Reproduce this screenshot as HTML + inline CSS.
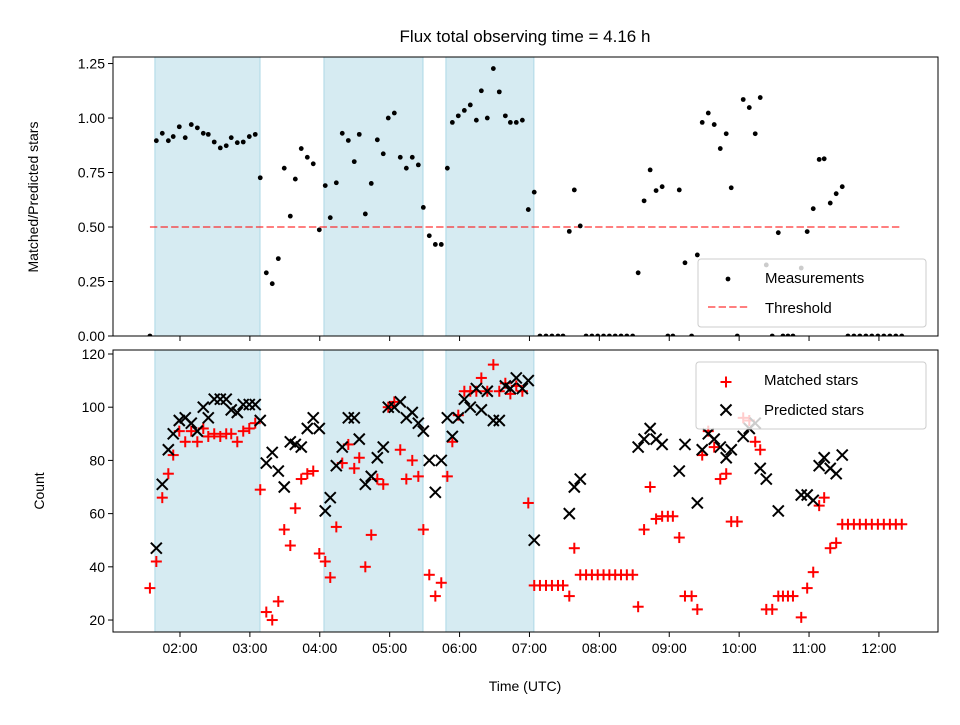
<!DOCTYPE html>
<html><head><meta charset="utf-8"><style>
body{margin:0;background:#fff}
svg text{font-family:"Liberation Sans","DejaVu Sans",sans-serif;fill:#000}
</style></head><body>
<svg id="chart" width="960" height="720" xmlns="http://www.w3.org/2000/svg"></svg>
<script>
const times=[94.2,99.7,104.8,110.0,114.2,119.4,124.5,129.7,134.9,140.0,144.3,149.4,154.6,159.7,164.0,169.2,174.3,179.5,184.6,188.9,194.1,199.2,204.4,209.5,214.7,219.0,224.1,229.3,234.4,239.6,244.7,249.0,254.2,259.3,264.5,269.6,273.9,279.1,284.2,289.4,294.5,298.8,304.0,309.1,314.3,319.4,324.6,328.9,334.0,339.2,344.3,349.5,353.8,358.9,364.1,369.2,374.4,378.7,383.8,389.0,394.1,399.3,403.6,408.7,413.9,419.0,424.1,429.0,434.2,439.3,444.5,448.8,454.2,458.5,463.6,468.6,473.6,478.6,483.6,488.6,493.6,498.6,503.6,508.6,513.3,518.4,523.6,528.7,533.9,538.8,543.1,548.6,553.5,559.2,564.1,568.3,573.5,578.6,583.8,588.9,593.2,598.4,603.5,608.7,613.8,618.1,623.3,628.4,633.6,637.6,641.9,646.2,653.3,658.4,663.6,668.7,673.0,678.2,683.3,688.5,693.4,698.5,703.6,708.8,713.9,719.1,724.2,729.4,734.5,739.6];
const ratio=[0,.896,.93,.896,.915,.96,.91,.97,.955,.93,.925,.89,.863,.873,.91,.887,.89,.915,.925,.726,.29,.24,.355,.77,.55,.72,.86,.82,.79,.487,.69,.543,.703,.93,.897,.80,.925,.56,.70,.90,.836,1.0,1.023,.82,.77,.82,.785,.59,.46,.42,.42,.77,.98,1.01,1.035,1.06,.99,1.125,1.0,1.227,1.12,1.01,.98,.98,.99,.58,.66,0,0,0,0,0,.48,.67,.505,0,0,0,0,0,0,0,0,0,.29,.62,.762,.667,.685,0,0,.67,.336,0,.372,.98,1.023,.97,.86,.928,.68,0,1.085,1.048,.928,1.094,.326,0,.474,0,0,0,.312,.479,.584,.81,.813,.61,.653,.685,0,0,0,0,0,0,0,0,0,0];
const matched=[32,42,66,75,82,91,87,91,87,92,89,90,89,90,90,87,91,92,94,69,23,20,27,54,48,62,73,75,76,45,42,36,55,79,86,77,81,40,52,73,71,100,102,84,73,80,74,54,37,29,34,74,87,97,106,106,106,111,106,116,106,109,105,108,106,64,33,33,33,33,33,33,29,47,37,37,37,37,37,37,37,37,37,37,25,54,70,58,59,59,59,51,29,29,24,82,91,85,73,75,57,57,96,95,87,84,24,24,29,29,29,29,21,32,38,63,66,47,49,56,56,56,56,56,56,56,56,56,56,56];
const predicted=[null,47,71,84,90,95,96,94,91,100,96,103,103,103,99,98,101,101,101,95,79,83,76,70,87,86,85,92,96,92,61,66,78,85,96,96,88,71,74,81,85,100,100,102,96,98,94,91,80,68,80,96,89,96,103,100,107,99,106,95,95,108,107,111,107,110,50,null,null,null,null,null,60,70,73,null,null,null,null,null,null,null,null,null,85,88,92,88,86,null,null,76,86,null,64,84,90,88,85,81,84,null,89,92,94,77,73,null,61,null,null,null,67,67,65,78,81,77,75,82,null,null,null,null,null,null,null,null,null,null];
const spans=[[98.5,188.7],[243.6,328.6],[348.3,423.8]];
const xTicks=[120,180,240,300,360,420,480,540,600,660,720];
const xTickLabels=["02:00","03:00","04:00","05:00","06:00","07:00","08:00","09:00","10:00","11:00","12:00"];
const topTicks=[0,0.25,0.5,0.75,1.0,1.25];
const topTickLabels=["0.00","0.25","0.50","0.75","1.00","1.25"];
const botTicks=[20,40,60,80,100,120];
const threshold=0.5;
const thrRange=[94.2,739.6];

const NS="http://www.w3.org/2000/svg";
const svg=document.getElementById('chart');
const L=113,R=938,T1=57,B1=336,T2=350,B2=632;
const X=m=>L+(m-62.5)/(770.7-62.5)*(R-L);
const Y1=v=>B1-(v/1.28)*(B1-T1);
const Y2=v=>B2-(v-15.5)/(121.5-15.5)*(B2-T2);
function el(tag,attrs,parent){const e=document.createElementNS(NS,tag);for(const k in attrs)e.setAttribute(k,attrs[k]);(parent||svg).appendChild(e);return e;}
function txt(s,attrs,parent){const e=el('text',attrs,parent);e.textContent=s;return e;}

// clip paths
const defs=el('defs',{});
const c1=el('clipPath',{id:'c1'},defs);el('rect',{x:L,y:T1,width:R-L,height:B1-T1},c1);
const c2=el('clipPath',{id:'c2'},defs);el('rect',{x:L,y:T2,width:R-L,height:B2-T2},c2);

function panel(T,B,clip,name){
  const g=el('g',{'clip-path':'url(#'+clip+')'});
  
  
  spans.forEach(s=>{
    const r=el('rect',{x:X(s[0]),y:T,width:X(s[1])-X(s[0]),height:B-T,fill:'#add8e6','fill-opacity':0.5,stroke:'#add8e6','stroke-width':1},g);
    
    
  });
  return g;
}
const g1=panel(T1,B1,'c1','top-plot');
const g2=panel(T2,B2,'c2','bottom-plot');

// threshold
const th=el('line',{x1:X(thrRange[0]),x2:X(thrRange[1]),y1:Y1(threshold),y2:Y1(threshold),stroke:'#ff0000','stroke-opacity':0.5,'stroke-width':2,'stroke-dasharray':'7.4,3.2'},g1);



// ratio dots
times.forEach((t,i)=>{
  const c=el('circle',{cx:X(t),cy:Y1(ratio[i]),r:2.4,fill:'#000'},g1);
  
  
});

// matched +
function plus(x,y,col,parent){const g=el('g',{stroke:col,'stroke-width':2},parent);el('line',{x1:x-5.5,x2:x+5.5,y1:y,y2:y},g);el('line',{x1:x,x2:x,y1:y-5.5,y2:y+5.5},g);return g;}
function cross(x,y,col,parent){const g=el('g',{stroke:col,'stroke-width':2},parent);el('line',{x1:x-5.5,x2:x+5.5,y1:y-5.5,y2:y+5.5},g);el('line',{x1:x-5.5,x2:x+5.5,y1:y+5.5,y2:y-5.5},g);return g;}
times.forEach((t,i)=>{
  const p=plus(X(t),Y2(matched[i]),'#ff0000',g2);
  
  
});
times.forEach((t,i)=>{
  if(predicted[i]==null)return;
  const p=cross(X(t),Y2(predicted[i]),'#000',g2);
  
  
});

// frames and ticks
function frame(T,B,yt,ylab,Yf,showX){
  const f=el('rect',{x:L,y:T,width:R-L,height:B-T,fill:'none',stroke:'#000','stroke-width':1});
  
  
  xTicks.forEach((m,i)=>{
    el('line',{x1:X(m),x2:X(m),y1:B,y2:B+5,stroke:'#000','stroke-width':1});
    if(showX){const t=txt(xTickLabels[i],{x:X(m),y:B+21,'font-size':14,'text-anchor':'middle'});
      
      }
  });
  yt.forEach((v,i)=>{
    el('line',{x1:L-5,x2:L,y1:Yf(v),y2:Yf(v),stroke:'#000','stroke-width':1});
    const t=txt(ylab[i],{x:L-8,y:Yf(v)+5,'font-size':14,'text-anchor':'end'});
    
    
  });
}
frame(T1,B1,topTicks,topTickLabels,Y1,false);
frame(T2,B2,botTicks,botTicks.map(String),Y2,true);

let t=txt('Flux total observing time = 4.16 h',{x:525,y:42,'font-size':17,'text-anchor':'middle'});

t=txt('Matched/Predicted stars',{x:0,y:0,'font-size':14,'text-anchor':'middle',transform:'translate(38,197) rotate(-90)'});

t=txt('Count',{x:0,y:0,'font-size':14,'text-anchor':'middle',transform:'translate(44,491) rotate(-90)'});

t=txt('Time (UTC)',{x:525,y:691,'font-size':14,'text-anchor':'middle'});


// legends
let lg=el('g',{});

el('rect',{x:698,y:259,width:228,height:68,rx:3,fill:'#fff','fill-opacity':0.8,stroke:'#ccc'},lg);
el('circle',{cx:728,cy:279,r:2.4,fill:'#000'},lg);
txt('Measurements',{x:765,y:283,'font-size':15},lg);
el('line',{x1:708,x2:748,y1:307,y2:307,stroke:'#ff0000','stroke-opacity':0.5,'stroke-width':2,'stroke-dasharray':'7.4,3.2'},lg);
txt('Threshold',{x:765,y:313,'font-size':15},lg);

lg=el('g',{});

el('rect',{x:696,y:362,width:230,height:67,rx:3,fill:'#fff','fill-opacity':0.8,stroke:'#ccc'},lg);
plus(726,382,'#ff0000',lg);
txt('Matched stars',{x:764,y:385,'font-size':15},lg);
cross(726,410,'#000',lg);
txt('Predicted stars',{x:764,y:415,'font-size':15},lg);
</script>
</body></html>
